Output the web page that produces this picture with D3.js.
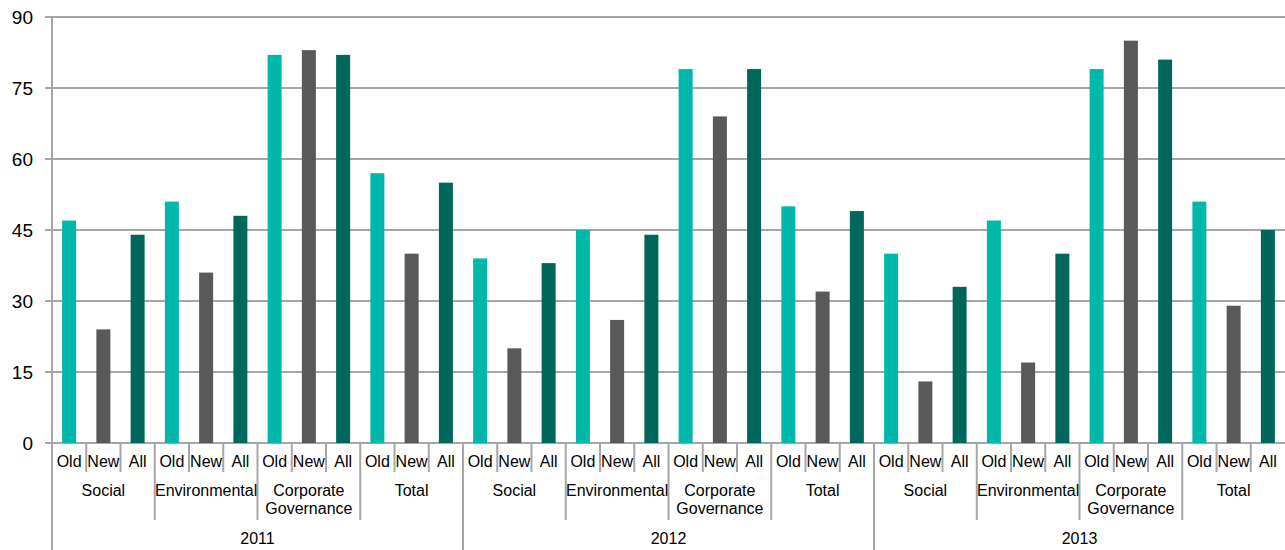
<!DOCTYPE html>
<html><head><meta charset="utf-8">
<script src="https://cdn.jsdelivr.net/npm/d3@7"></script>
<style>body{margin:0;background:#fff;}svg{display:block;font-family:"Liberation Sans",Arial,sans-serif;}</style>
</head><body><svg id="c" width="1285" height="550"></svg>
<script>
const years = ["2011","2012","2013"];
const categories = ["Social","Environmental","Corporate Governance","Total"];
const series = ["Old","New","All"];
const oldValues = [47,51,82,57, 39,45,79,50, 40,47,79,51];
const newValues = [24,36,83,40, 20,26,69,32, 13,17,85,29];
const allValues = [44,48,82,55, 38,44,79,49, 33,40,81,45];
const yTicks = [0,15,30,45,60,75,90];
const colors = {Old:"#00B8A9", New:"#58595B", All:"#00685A"};

const svg = d3.select("#c");
const L = 52, R = 1285, T = 17, B = 443;
const grid = "#A6A6A6";

const rows = [];
years.forEach((y,yi)=>categories.forEach((c,ci)=>series.forEach((s)=>{
  const idx = yi*categories.length+ci;
  const v = s==="Old"?oldValues[idx]:s==="New"?newValues[idx]:allValues[idx];
  rows.push({key:y+"|"+c+"|"+s, year:y, cat:c, s:s, v:v});
})));

const x = d3.scaleBand().domain(rows.map(d=>d.key)).range([L,R]).paddingInner(0).paddingOuter(0);
const y = d3.scaleLinear().domain([0,90]).range([B,T]);

// gridlines
svg.append("g").selectAll("line").data(yTicks).join("line")
  .attr("x1",L-7).attr("x2",R).attr("y1",d=>y(d)).attr("y2",d=>y(d))
  .attr("stroke",grid).attr("stroke-width",2);
// y labels
svg.append("g").selectAll("text").data(yTicks).join("text")
  .attr("x",33).attr("y",d=>y(d)).attr("dy","0.35em").attr("text-anchor","end")
  .attr("font-size",19).attr("fill","#000").text(d=>d);

// bars
const bw = 14;
svg.append("g").selectAll("rect").data(rows).join("rect")
  .attr("x",d=>x(d.key)+x.bandwidth()/2-bw/2).attr("width",bw)
  .attr("y",d=>y(d.v)).attr("height",d=>y(0)-y(d.v))
  .attr("fill",d=>colors[d.s]);

// left axis line
svg.append("line").attr("x1",L).attr("x2",L).attr("y1",T).attr("y2",550).attr("stroke",grid).attr("stroke-width",2);

// separators
const sep = svg.append("g");
rows.forEach((d,i)=>{
  if(i===0) return;
  const xx = x(d.key);
  let y2;
  if(i % 12 === 0) y2 = 550;
  else if(i % 3 === 0) y2 = 520;
  else y2 = 472;
  sep.append("line").attr("x1",xx).attr("x2",xx).attr("y1",B).attr("y2",y2).attr("stroke",grid).attr("stroke-width",2);
});
// bar labels
svg.append("g").selectAll("text").data(rows).join("text")
  .attr("x",d=>x(d.key)+x.bandwidth()/2).attr("y",461).attr("dy","0.35em")
  .attr("text-anchor","middle").attr("font-size",16).attr("fill","#000").text(d=>d.s);
// category labels
const catRows = [];
years.forEach(yv=>categories.forEach(c=>catRows.push({year:yv,cat:c})));
const cg = svg.append("g");
catRows.forEach(d=>{
  const x0 = x(d.year+"|"+d.cat+"|Old"), x1 = x(d.year+"|"+d.cat+"|All")+x.bandwidth();
  const cx = (x0+x1)/2;
  const words = d.cat==="Corporate Governance" ? ["Corporate","Governance"] : [d.cat];
  words.forEach((w,wi)=>{
    cg.append("text").attr("x",cx).attr("y",490+wi*18).attr("dy","0.35em")
      .attr("text-anchor","middle").attr("font-size",16).attr("fill","#000").text(w);
  });
});
// year labels
years.forEach(yv=>{
  const x0 = x(yv+"|Social|Old"), x1 = x(yv+"|Total|All")+x.bandwidth();
  svg.append("text").attr("x",(x0+x1)/2).attr("y",538).attr("dy","0.35em")
    .attr("text-anchor","middle").attr("font-size",16).attr("fill","#000").text(yv);
});
</script></body></html>
